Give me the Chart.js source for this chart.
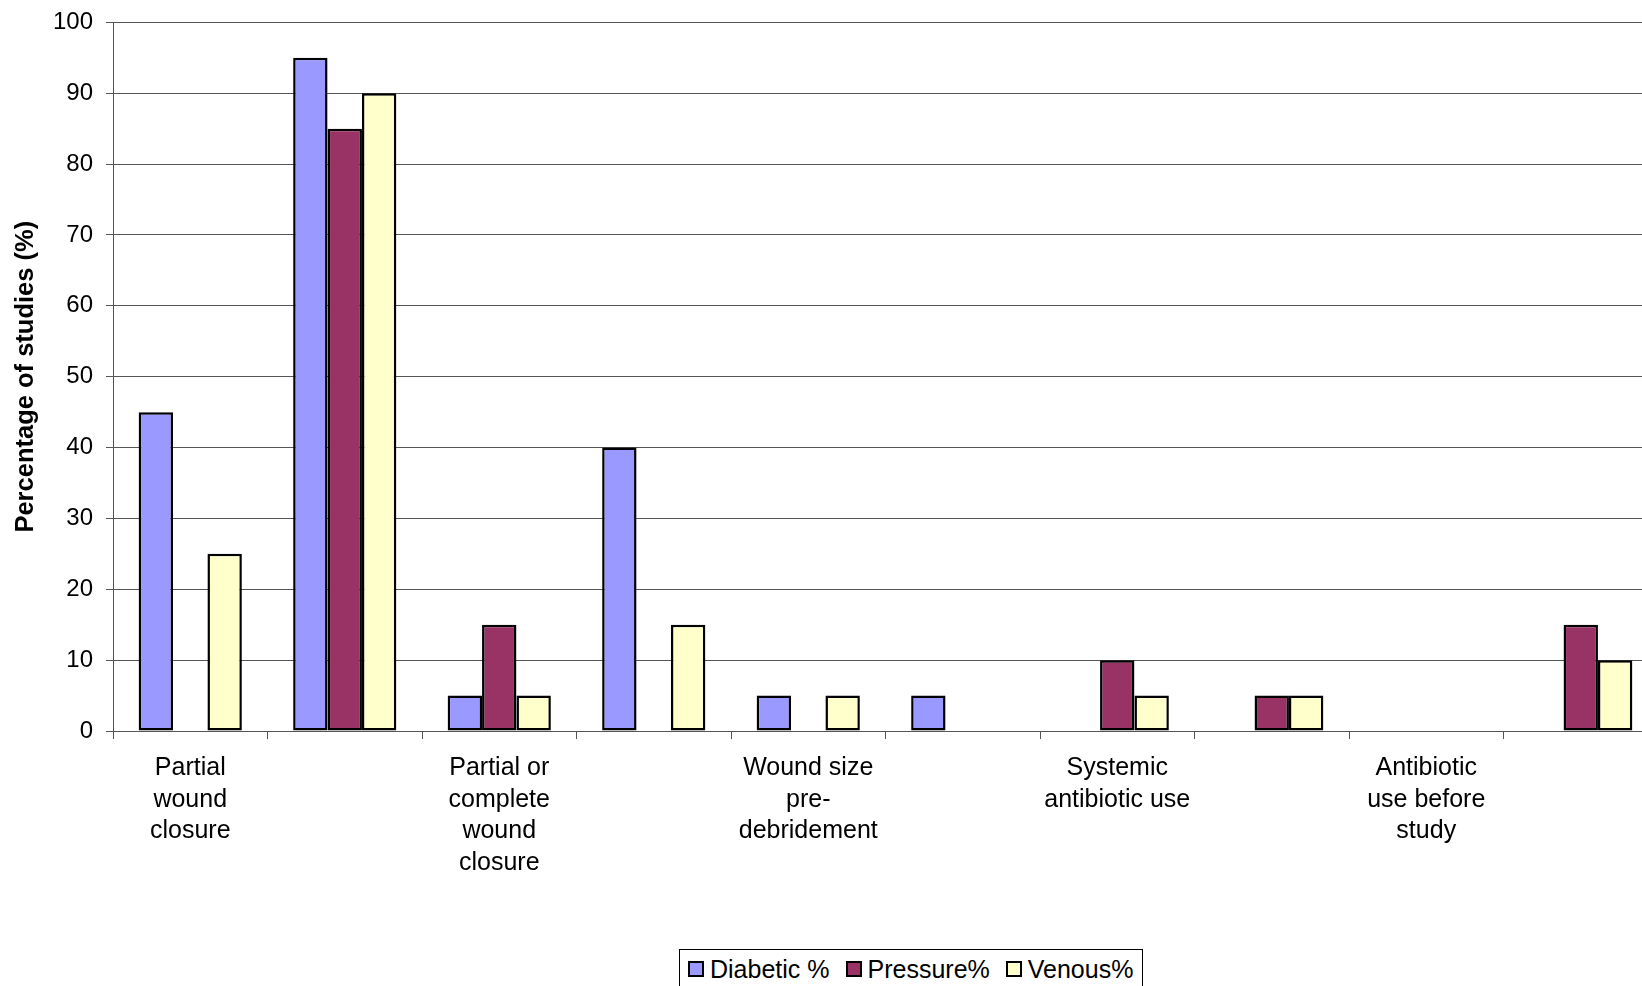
<!DOCTYPE html>
<html>
<head>
<meta charset="utf-8">
<script src="https://cdn.jsdelivr.net/npm/chart.js@4/dist/chart.umd.min.js"></script>
<style>
  html, body { margin: 0; padding: 0; background: #fff; overflow: hidden; }
  #wrap { position: relative; width: 1642px; height: 986px; overflow: hidden; }
  #c { position: absolute; left: 0; top: -5px; }
  #legend {
    position: absolute; left: 679px; top: 949px; width: 464px; height: 50px;
    border: 1px solid #000; box-sizing: border-box; background: #fff;
    font-family: "Liberation Sans", Arial, sans-serif; font-size: 25px; color: #000;
    display: flex; flex-wrap: nowrap; align-items: flex-start; padding: 4px 0 0 8px;
    white-space: nowrap; overflow: hidden;
  }
  #legend .item { display: flex; flex-shrink: 0; align-items: center; margin-right: 16px; height: 30px; }
  #legend .item:last-child { margin-right: 0; }
  #legend .sw { flex-shrink: 0; width: 12px; height: 12px; border: 2px solid #000; margin-right: 6px; }
</style>
</head>
<body>
<div id="wrap">
  <canvas id="c" width="1660" height="991"></canvas>
  <div id="legend"></div>
</div>
<script>
// ---- data ----
const categories = [
  ["Partial", "wound", "closure"],
  "",
  ["Partial or", "complete", "wound", "closure"],
  "",
  ["Wound size", "pre-", "debridement"],
  "",
  ["Systemic", "antibiotic use"],
  "",
  ["Antibiotic", "use before", "study"],
  ""
];
const seriesNames = ["Diabetic %", "Pressure%", "Venous%"];
const diabetic = [45, 95, 5, 40, 5, 5, 0, 0, 0, 0];
const pressure = [0, 85, 15, 0, 0, 0, 10, 5, 0, 15];
const venous   = [25, 90, 5, 15, 5, 0, 5, 5, 0, 10];
const yTicks = [0, 10, 20, 30, 40, 50, 60, 70, 80, 90, 100];
const yTitle = "Percentage of studies (%)";

const colors = ["#9999FF", "#993366", "#FFFFCC"];
const values = [diabetic, pressure, venous];

const datasets = seriesNames.map((name, i) => ({
  label: name,
  data: values[i],
  backgroundColor: colors[i],
  borderColor: "#000",
  borderWidth: ctx => (ctx.raw === 0 ? 0 : 2.5),
  borderSkipped: false,
  categoryPercentage: 0.668,
  barPercentage: 1.0
}));

const FONT = "'Liberation Sans', Arial, sans-serif";

new Chart(document.getElementById("c"), {
  type: "bar",
  data: { labels: categories, datasets },
  options: {
    responsive: false,
    animation: false,
    devicePixelRatio: 1,
    layout: { padding: { left: 0, right: 2, top: 18, bottom: 0 } },
    plugins: { legend: { display: false }, tooltip: { enabled: false } },
    scales: {
      x: {
        offset: true,
        afterFit: s => { s.height = 991 - 736; },
        grid: {
          offset: true, drawOnChartArea: false, drawTicks: true,
          tickLength: 8, color: "#555", lineWidth: 1
        },
        border: { display: true, color: "#555", width: 1 },
        ticks: {
          autoSkip: false, maxRotation: 0, minRotation: 0, padding: 13,
          color: "#000", font: { family: FONT, size: 25, lineHeight: 1.27 }
        }
      },
      y: {
        min: 0, max: 100,
        afterFit: s => { s.width = 113; },
        afterBuildTicks: s => { s.ticks = yTicks.map(v => ({ value: v })); },
        grid: { color: "#555", lineWidth: 1, tickLength: 7, drawTicks: true },
        border: { display: true, color: "#555", width: 1 },
        ticks: {
          padding: 13, color: "#000",
          font: { family: FONT, size: 24 }
        },
        title: {
          display: true, text: yTitle, color: "#000",
          font: { family: FONT, size: 25.5, weight: "bold" },
          padding: { top: 11, bottom: 0 }
        }
      }
    }
  }
});

// HTML legend built from series names and colours
const lg = document.getElementById("legend");
seriesNames.forEach((name, i) => {
  const it = document.createElement("div");
  it.className = "item";
  const sw = document.createElement("span");
  sw.className = "sw";
  sw.style.background = colors[i];
  const tx = document.createElement("span");
  tx.textContent = name;
  it.appendChild(sw); it.appendChild(tx);
  lg.appendChild(it);
});
</script>
</body>
</html>
